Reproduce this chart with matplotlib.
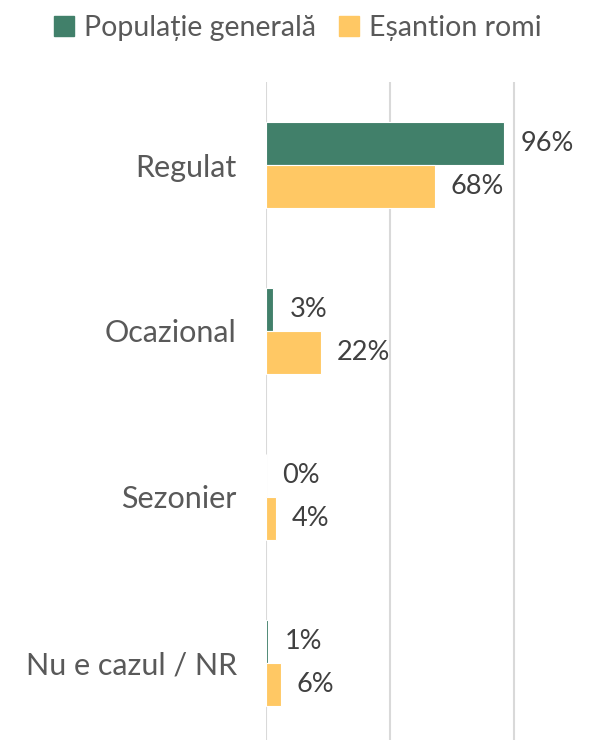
import matplotlib.pyplot as plt
from matplotlib.patches import Patch

categories = ["Regulat", "Ocazional", "Sezonier", "Nu e cazul / NR"]
populatie_generala = [0.96, 0.03, 0.00, 0.01]
esantion_romi = [0.68, 0.22, 0.04, 0.06]
series_names = ["Populație generală", "Eșantion romi"]

green = "#41806a"
yellow = "#ffc864"
txt = "#404040"
gray = "#595959"

plt.rcParams["font.family"] = ["Lato", "DejaVu Sans"]

fig = plt.figure(figsize=(6.16, 7.40), dpi=100)
ax = fig.add_axes([266 / 616, 0, 350 / 616, 1 - 82 / 740])

h = 0.26
y = list(range(len(categories)))
y1 = [v - h / 2 for v in y]
y2 = [v + h / 2 for v in y]
ax.barh(y1, populatie_generala, height=h, color=green, edgecolor="white", linewidth=0.8, zorder=3)
ax.barh(y2, esantion_romi, height=h, color=yellow, edgecolor="white", linewidth=0.8, zorder=3)

for yy, v in zip(y1, populatie_generala):
    ax.text(v + 0.065, yy, f"{round(v * 100)}%", va="center", ha="left", fontsize=19.5, color=txt)
for yy, v in zip(y2, esantion_romi):
    ax.text(v + 0.065, yy, f"{round(v * 100)}%", va="center", ha="left", fontsize=19.5, color=txt)

ax.set_xlim(0, 350 / 248)
ax.set_ylim((740 - 165) / 166, -0.5)
ax.set_xticks([0, 0.5, 1.0])
ax.xaxis.grid(True, color="#d9d9d9", linewidth=1.5, zorder=0)
ax.tick_params(axis="x", length=0, labelbottom=False)
ax.set_yticks(y)
ax.set_yticklabels(categories, fontsize=22, color=gray)
ax.tick_params(axis="y", length=0, pad=21)
for s in ax.spines.values():
    s.set_visible(False)

handles = [Patch(color=green), Patch(color=yellow)]
fig.legend(handles, series_names, loc="upper left", bbox_to_anchor=(0.046, 1.015),
           ncol=2, frameon=False, fontsize=20.5, labelcolor=gray,
           handlelength=0.7, handleheight=0.7, handletextpad=0.35, columnspacing=0.8)

fig.savefig("out.png", dpi=100)
